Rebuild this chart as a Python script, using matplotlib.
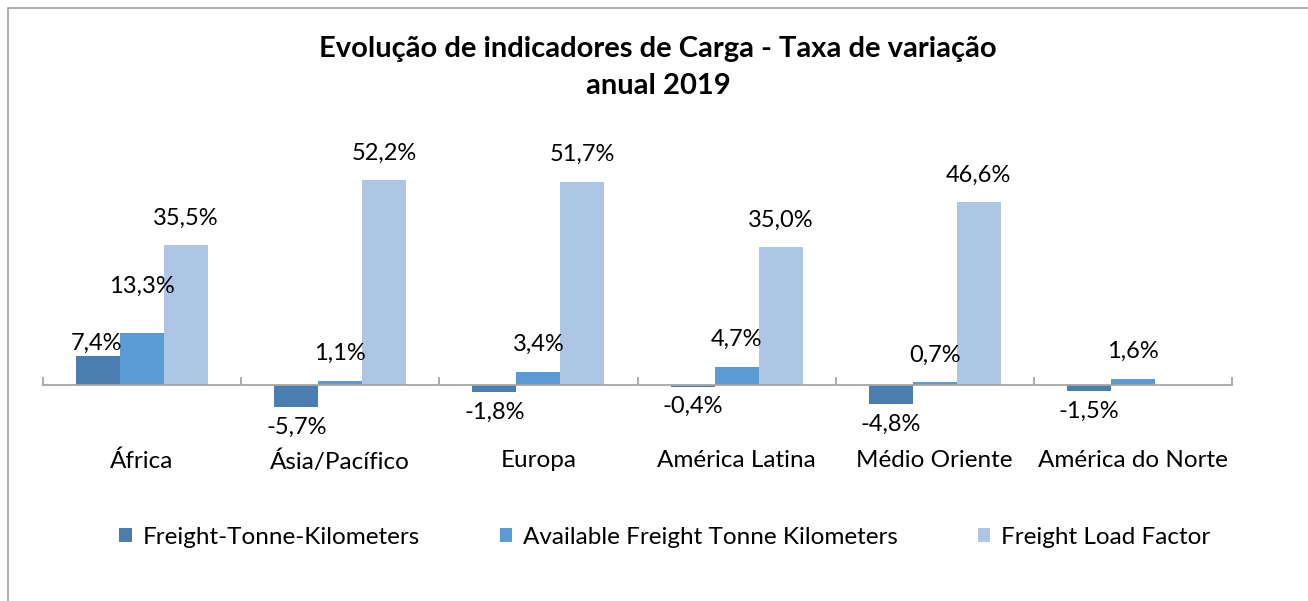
import numpy as np
import matplotlib
matplotlib.use("Agg")
import matplotlib.pyplot as plt
from matplotlib.patches import Patch, Rectangle

plt.rcParams['font.family'] = ['Lato', 'DejaVu Sans']

regions = ['África', 'Ásia/Pacífico', 'Europa', 'América Latina', 'Médio Oriente', 'América do Norte']
ftk = [7.4, -5.7, -1.8, -0.4, -4.8, -1.5]
aftk = [13.3, 1.1, 3.4, 4.7, 0.7, 1.6]
load_factor = [35.5, 52.2, 51.7, 35.0, 46.6, np.nan]

series_names = ['Freight-Tonne-Kilometers', 'Available Freight Tonne Kilometers', 'Freight Load Factor']
colors = ['#4a7eb1', '#5b9bd5', '#adc6e6']

# Excel moved a couple of labels by hand (series index, category index) -> pixel nudge
label_nudge = {(0, 0): (-2, -14), (1, 0): (0, 19)}

W, H = 1308, 601
fig = plt.figure(figsize=(W / 100, H / 100), dpi=100)

# axes placed so that y=0 sits at pixel 385 and 1 unit = 3.93 px
ymin, ymax = -6, 60
px_per_unit = 3.93
top_px = 385 - ymax * px_per_unit
bot_px = 385 - ymin * px_per_unit
ax = fig.add_axes([43 / W, 1 - bot_px / H, (1232 - 43) / W, (bot_px - top_px) / H])
ax.set_xlim(-0.5, len(regions) - 0.5)
ax.set_ylim(ymin, ymax)

x = np.arange(len(regions))
w = 0.222
for i, (vals, c) in enumerate(zip([ftk, aftk, load_factor], colors)):
    pos = x + (i - 1) * w
    ax.bar(pos, vals, width=w, color=c, zorder=2)
    for j, v in enumerate(vals):
        if np.isnan(v):
            continue
        dx, dy = label_nudge.get((i, j), (0, 0))
        off = 27 if v >= 0 else -20
        ax.annotate(f'{v:.1f}%'.replace('.', ','), (pos[j], v),
                    xytext=(dx, off + dy), textcoords='offset pixels',
                    ha='center', va='center', fontsize=17, color='#000000')

for s in ['left', 'right', 'top']:
    ax.spines[s].set_visible(False)
ax.spines['bottom'].set_position(('data', 0))
ax.spines['bottom'].set_color('#a6a6a6')
ax.spines['bottom'].set_linewidth(1.3)
ax.set_yticks([])
ax.set_xticks(x)
ax.set_xticklabels(regions, fontsize=17.5)
ax.tick_params(axis='x', which='major', length=0, pad=47)
ax.set_xticks(np.arange(len(regions) + 1) - 0.5, minor=True)
ax.tick_params(axis='x', which='minor', direction='in', length=6, width=1.3, color='#a6a6a6')

fig.suptitle('Evolução de indicadores de Carga - Taxa de variação\nanual 2019',
             x=658 / W, y=1 - 36 / H, va='top', fontsize=21, fontweight='bold', linespacing=1.5)

handles = [Patch(facecolor=c, edgecolor='none') for c in colors]
fig.legend(handles, series_names, loc='center', bbox_to_anchor=(665 / W, 1 - 537 / H),
           ncol=3, frameon=False, fontsize=17.5, handlelength=0.5, handleheight=0.55,
           handletextpad=0.45, columnspacing=3.3)

fig.patches.append(Rectangle((8 / W, -0.1), 1.2, 1.1 - 8 / H, transform=fig.transFigure,
                             fill=False, edgecolor='#a0a0a0', linewidth=1.2))

fig.savefig('out.png', dpi=100)
